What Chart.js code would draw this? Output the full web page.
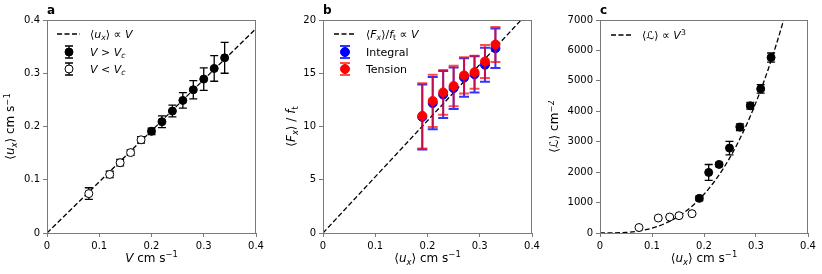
<!DOCTYPE html>
<html><head><meta charset="utf-8">
<script src="https://cdn.jsdelivr.net/npm/chart.js@4/dist/chart.umd.min.js"></script>
<style>
html,body{margin:0;padding:0;background:#fff;}
#wrap{position:relative;width:822px;height:274px;overflow:hidden;}
canvas{position:absolute;top:0;}
</style></head><body>
<div id="wrap">
<canvas id="ca" width="274" height="274" style="left:0px"></canvas>
<canvas id="cb" width="274" height="274" style="left:274px"></canvas>
<canvas id="cc" width="274" height="274" style="left:548px"></canvas>
</div>
<script>
// ---------- DATA ----------
// panel a
const aOpenV   = [0.08, 0.12, 0.14, 0.16, 0.18];
const aOpenU   = [0.074, 0.110, 0.132, 0.151, 0.175];
const aOpenErr = [0.011, 0.006, 0.006, 0.005, 0.006];
const aFillV   = [0.20, 0.22, 0.24, 0.26, 0.28, 0.30, 0.32, 0.34];
const aFillU   = [0.191, 0.209, 0.229, 0.249, 0.269, 0.289, 0.309, 0.329];
const aFillErr = [0.006, 0.011, 0.011, 0.0145, 0.017, 0.021, 0.024, 0.029];
const aFitX = [0, 0.4];
const aFitY = [0, 0.384];
// panel b
const bU            = [0.19, 0.21, 0.23, 0.25, 0.27, 0.29, 0.31, 0.33];
const bIntegral     = [10.9, 12.2, 13.0, 13.6, 14.6, 14.9, 15.8, 17.35];
const bIntegralErr  = [3.05, 2.45, 2.2, 1.95, 1.8, 1.7, 1.6, 1.85];
const bTension      = [11.0, 12.4, 13.2, 13.8, 14.8, 15.1, 16.1, 17.7];
const bTensionErr   = [3.06, 2.45, 2.1, 1.9, 1.7, 1.55, 1.55, 1.65];
const bFitX = [0, 0.4];
const bFitY = [0, 21.1];
// panel c
const cOpenU   = [0.075, 0.112, 0.134, 0.152, 0.177];
const cOpenL   = [180, 492, 525, 569, 635];
const cOpenErr = [0, 0, 0, 40, 45];
const cFillU   = [0.191, 0.209, 0.229, 0.249, 0.269, 0.289, 0.309, 0.329];
const cFillL   = [1138, 1991, 2254, 2790, 3479, 4179, 4737, 5766];
const cFillErr = [70, 260, 70, 220, 110, 110, 140, 150];
const cFitX = [0, 0.025, 0.05, 0.075, 0.1, 0.125, 0.15, 0.175, 0.2, 0.225, 0.25, 0.275, 0.3, 0.325, 0.35, 0.375];
const cFitY = [0, 2.5, 20, 67, 159, 311, 537, 852, 1272, 1811, 2484, 3307, 4293, 5458, 6817, 8385];
// ticks
const xTicks = [0, 0.1, 0.2, 0.3, 0.4];
const xTickLabels = ['0', '0.1', '0.2', '0.3', '0.4'];
const aYTicks = [0, 0.1, 0.2, 0.3, 0.4];
const aYTickLabels = ['0', '0.1', '0.2', '0.3', '0.4'];
const bYTicks = [0, 5, 10, 15, 20];
const bYTickLabels = ['0', '5', '10', '15', '20'];
const cYTicks = [0, 1000, 2000, 3000, 4000, 5000, 6000, 7000];
const cYTickLabels = ['0', '1000', '2000', '3000', '4000', '5000', '6000', '7000'];
// texts
const panelLetters = ['a', 'b', 'c'];
const uxRuns = [['⟨','n'],['u','i'],['x','isub'],['⟩','n'],[' cm s','n'],['−1','sup']];
const aXLabel = [['V','i'],[' cm s','n'],['−1','sup']];
const aYLabel = uxRuns;
const bXLabel = uxRuns;
const bYLabel = [['⟨','n'],['F','i'],['x','isub'],['⟩','n'],[' / ','n'],['f','i'],['t','sub']];
const cXLabel = uxRuns;
const cYLabel = [['⟨','n'],['ℒ','n'],['⟩','n'],[' cm','n'],['−2','sup']];
const aLegend = [
  [['⟨','n'],['u','i'],['x','isub'],['⟩','n'],[' ∝ ','n'],['V','i']],
  [['V','i'],[' > ','n'],['V','i'],['c','isub']],
  [['V','i'],[' < ','n'],['V','i'],['c','isub']]
];
const bLegend = [
  [['⟨','n'],['F','i'],['x','isub'],['⟩','n'],['/','n'],['f','i'],['t','sub'],[' ∝ ','n'],['V','i']],
  [['Integral','n']],
  [['Tension','n']]
];
const cLegend = [
  [['⟨','n'],['ℒ','n'],['⟩','n'],[' ∝ ','n'],['V','i'],['3','sup']]
];

// ---------- HELPERS ----------
const FAM = '"DejaVu Sans"';
const GRAY = '#7a7a7a';
const pts = (xs, ys) => xs.map((x, i) => ({x: x, y: ys[i]}));

function drawRich(ctx, runs, x, y, size, align) {
  const parts = runs.map(([t, s]) => {
    const italic = (s === 'i' || s === 'isub' || s === 'isup');
    const sub = (s === 'sub' || s === 'isub');
    const sup = (s === 'sup' || s === 'isup');
    const fs = (sub || sup) ? size * 0.7 : size;
    const dy = sub ? size * 0.22 : (sup ? -size * 0.4 : 0);
    const font = (italic ? 'italic ' : '') + fs + 'px ' + FAM;
    ctx.font = font;
    return {t, font, dy, w: ctx.measureText(t).width};
  });
  const total = parts.reduce((a, p) => a + p.w, 0);
  let cx = align === 'center' ? x - total / 2 : (align === 'right' ? x - total : x);
  ctx.textBaseline = 'alphabetic';
  ctx.textAlign = 'left';
  ctx.fillStyle = '#000';
  for (const p of parts) { ctx.font = p.font; ctx.fillText(p.t, cx, y + p.dy); cx += p.w; }
}

function dashSample(ctx, x1, x2, y) {
  ctx.save();
  ctx.strokeStyle = '#000'; ctx.lineWidth = 1.3; ctx.setLineDash([5, 2.5]);
  ctx.beginPath(); ctx.moveTo(x1, y); ctx.lineTo(x2, y); ctx.stroke();
  ctx.restore();
}
function errSample(ctx, x, y, cap, half, lw, ecol, fill, stroke, r) {
  ctx.save();
  ctx.strokeStyle = ecol; ctx.lineWidth = lw;
  ctx.beginPath();
  ctx.moveTo(x, y - half); ctx.lineTo(x, y + half);
  ctx.moveTo(x - cap, y - half); ctx.lineTo(x + cap, y - half);
  ctx.moveTo(x - cap, y + half); ctx.lineTo(x + cap, y + half);
  ctx.stroke();
  ctx.beginPath(); ctx.arc(x, y, r, 0, Math.PI * 2);
  ctx.fillStyle = fill; ctx.fill();
  ctx.strokeStyle = stroke; ctx.lineWidth = 1; ctx.stroke();
  ctx.restore();
}

const errPlugin = {
  id: 'errbars',
  beforeDatasetDraw(chart, args) {
    const ds = chart.data.datasets[args.index];
    if (!ds.err) return;
    const xs = chart.scales.x, ys = chart.scales.y, ctx = chart.ctx;
    ctx.save();
    ctx.beginPath();
    ctx.rect(chart.chartArea.left, chart.chartArea.top, chart.chartArea.width, chart.chartArea.height);
    ctx.clip();
    ctx.strokeStyle = ds.errColor; ctx.lineWidth = ds.errWidth;
    ds.data.forEach((p, i) => {
      const x = xs.getPixelForValue(p.x);
      const y1 = ys.getPixelForValue(p.y - ds.err[i]);
      const y2 = ys.getPixelForValue(p.y + ds.err[i]);
      const c = ds.capSize;
      ctx.beginPath();
      ctx.moveTo(x, y1); ctx.lineTo(x, y2);
      ctx.moveTo(x - c, y1); ctx.lineTo(x + c, y1);
      ctx.moveTo(x - c, y2); ctx.lineTo(x + c, y2);
      ctx.stroke();
    });
    ctx.restore();
  }
};

function decoPlugin(cfg) {
  return {
    id: 'deco',
    afterDraw(chart) {
      const ctx = chart.ctx, a = chart.chartArea;
      ctx.save();
      ctx.strokeStyle = GRAY; ctx.lineWidth = 1;
      ctx.strokeRect(Math.round(a.left) + 0.5, Math.round(a.top) + 0.5,
                     Math.round(a.right) - Math.round(a.left) - 1, Math.round(a.bottom) - Math.round(a.top));
      ctx.restore();
      // panel letter
      ctx.save();
      ctx.fillStyle = '#000'; ctx.font = 'bold 12px ' + FAM;
      ctx.textAlign = 'left'; ctx.textBaseline = 'alphabetic';
      ctx.fillText(cfg.letter, a.left, 14);
      ctx.restore();
      // x label
      ctx.save();
      drawRich(ctx, cfg.xLabel, (a.left + a.right) / 2, 262, 12, 'center');
      ctx.restore();
      // y label
      ctx.save();
      ctx.translate(cfg.yLabelX, (a.top + a.bottom) / 2);
      ctx.rotate(-Math.PI / 2);
      drawRich(ctx, cfg.yLabel, 0, 12 * 0.36, 12, 'center');
      ctx.restore();
      // legend
      cfg.legend(ctx);
    }
  };
}

function makeOptions(cfg) {
  return {
    responsive: false, animation: false, devicePixelRatio: 1,
    layout: {padding: {top: 20, right: cfg.padRight, left: 0, bottom: 0}},
    plugins: {legend: {display: false}, tooltip: {enabled: false}, title: {display: false}},
    scales: {
      x: {
        type: 'linear', min: 0, max: 0.4,
        afterBuildTicks: s => { s.ticks = xTicks.map(v => ({value: v})); },
        afterFit: s => { s.height = 41; },
        ticks: {callback: (v, i) => xTickLabels[i], color: '#000', font: {family: 'DejaVu Sans', size: 10}, padding: 3, maxRotation: 0, autoSkip: false},
        grid: {drawOnChartArea: false, tickLength: 4, color: GRAY, tickColor: GRAY, lineWidth: 1},
        border: {color: GRAY, width: 1}
      },
      y: {
        type: 'linear', min: cfg.yMin, max: cfg.yMax,
        afterBuildTicks: s => { s.ticks = cfg.yTicks.map(v => ({value: v})); },
        afterFit: s => { s.width = cfg.left; },
        ticks: {callback: (v, i) => cfg.yTickLabels[i], color: '#000', font: {family: 'DejaVu Sans', size: 10}, padding: 3, autoSkip: false},
        grid: {drawOnChartArea: false, tickLength: 4, color: GRAY, tickColor: GRAY, lineWidth: 1},
        border: {color: GRAY, width: 1}
      }
    }
  };
}

function fitDs(xs, ys, mono) {
  return {data: pts(xs, ys), showLine: true, borderColor: '#000', borderWidth: 1.3, borderDash: [5, 2.5],
          pointRadius: 0, fill: false, order: 10, cubicInterpolationMode: mono ? 'monotone' : 'default'};
}
function markerDs(xs, ys, err, fill, stroke, r, ecol, ew, cap, order) {
  return {data: pts(xs, ys), err: err, errColor: ecol, errWidth: ew, capSize: cap,
          pointRadius: r, pointBackgroundColor: fill, pointBorderColor: stroke, pointBorderWidth: 1,
          backgroundColor: fill, borderColor: stroke, showLine: false, order: order};
}

// ---------- PANEL A ----------
new Chart(document.getElementById('ca'), {
  type: 'scatter',
  data: {datasets: [
    fitDs(aFitX, aFitY, false),
    markerDs(aOpenV, aOpenU, aOpenErr, '#fff', '#000', 4, '#000', 1.3, 4, 2),
    markerDs(aFillV, aFillU, aFillErr, '#000', '#000', 4, '#000', 1.3, 4, 1)
  ]},
  options: makeOptions({padRight: 18, left: 47, yMin: 0, yMax: 0.4, yTicks: aYTicks, yTickLabels: aYTickLabels}),
  plugins: [errPlugin, decoPlugin({
    letter: panelLetters[0], xLabel: aXLabel, yLabel: aYLabel, yLabelX: 10,
    legend: ctx => {
      dashSample(ctx, 57, 80, 34);
      drawRich(ctx, aLegend[0], 90, 34 + 4, 11, 'left');
      errSample(ctx, 69, 52, 4, 6, 1.3, '#000', '#000', '#000', 4);
      drawRich(ctx, aLegend[1], 90, 52 + 4, 11, 'left');
      errSample(ctx, 69, 69, 4, 6, 1.3, '#000', '#fff', '#000', 4);
      drawRich(ctx, aLegend[2], 90, 69 + 4, 11, 'left');
    }
  })]
});

// ---------- PANEL B ----------
new Chart(document.getElementById('cb'), {
  type: 'scatter',
  data: {datasets: [
    fitDs(bFitX, bFitY, false),
    markerDs(bU, bIntegral, bIntegralErr, '#0000ff', '#0000ff', 4.5, 'rgba(0,0,255,0.8)', 2, 5, 2),
    markerDs(bU, bTension, bTensionErr, '#ff0000', '#ff0000', 4.5, 'rgba(255,0,0,0.7)', 2, 5, 1)
  ]},
  options: makeOptions({padRight: 16, left: 49, yMin: 0, yMax: 20, yTicks: bYTicks, yTickLabels: bYTickLabels}),
  plugins: [errPlugin, decoPlugin({
    letter: panelLetters[1], xLabel: bXLabel, yLabel: bYLabel, yLabelX: 17,
    legend: ctx => {
      dashSample(ctx, 60, 82, 34);
      drawRich(ctx, bLegend[0], 92, 34 + 4, 11, 'left');
      errSample(ctx, 71, 52, 5, 6, 2, 'rgba(0,0,255,0.8)', '#0000ff', '#0000ff', 4.5);
      drawRich(ctx, bLegend[1], 92, 52 + 4, 11, 'left');
      errSample(ctx, 71, 69, 5, 6, 2, 'rgba(255,0,0,0.7)', '#ff0000', '#ff0000', 4.5);
      drawRich(ctx, bLegend[2], 92, 69 + 4, 11, 'left');
    }
  })]
});

// ---------- PANEL C ----------
new Chart(document.getElementById('cc'), {
  type: 'scatter',
  data: {datasets: [
    fitDs(cFitX, cFitY, true),
    markerDs(cOpenU, cOpenL, cOpenErr, '#fff', '#000', 4, '#000', 1.3, 4, 2),
    markerDs(cFillU, cFillL, cFillErr, '#000', '#000', 4, '#000', 1.3, 4, 1)
  ]},
  options: makeOptions({padRight: 14, left: 52, yMin: 0, yMax: 7000, yTicks: cYTicks, yTickLabels: cYTickLabels}),
  plugins: [errPlugin, decoPlugin({
    letter: panelLetters[2], xLabel: cXLabel, yLabel: cYLabel, yLabelX: 6,
    legend: ctx => {
      dashSample(ctx, 63, 85, 35);
      drawRich(ctx, cLegend[0], 94, 35 + 4, 11, 'left');
    }
  })]
});
</script>
</body></html>
